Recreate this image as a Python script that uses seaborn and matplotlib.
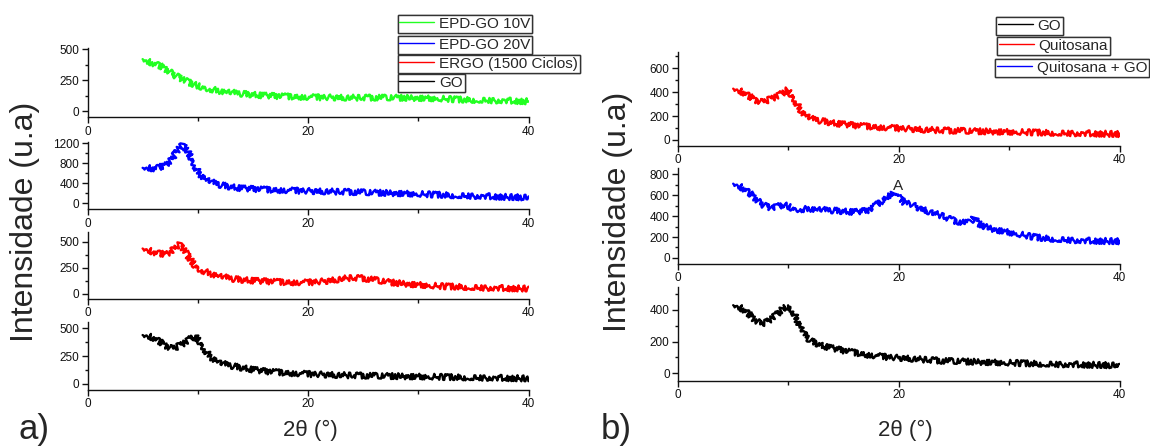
import numpy as np
import pandas as pd
import matplotlib
matplotlib.use("Agg")
import matplotlib.pyplot as plt
from matplotlib.lines import Line2D
from matplotlib.ticker import MultipleLocator, FixedLocator
import seaborn as sns

sns.set_style("ticks")
plt.rcParams['font.family'] = ['Liberation Sans', 'DejaVu Sans']

# ---------------- data ----------------
# Panel a) : EPD-GO 10V
x_epd10 = [5, 5.5, 6, 6.5, 7, 7.5, 8, 8.5, 9, 9.5, 10, 11, 12, 13, 14, 15, 16, 17, 18,
           20, 22, 24, 26, 28, 30, 32, 34, 36, 38, 40]
y_epd10 = [420, 400, 385, 370, 345, 315, 285, 260, 240, 220, 205, 180, 162, 150, 140, 132,
           126, 121, 118, 112, 110, 108, 108, 107, 105, 100, 92, 88, 84, 78]
# EPD-GO 20V
x_epd20 = [5, 6, 6.5, 7, 7.5, 8, 8.3, 8.6, 9, 9.4, 9.8, 10.2, 10.7, 11.3, 12, 13, 14, 15,
           17, 20, 23, 26, 28, 30, 33, 36, 38, 40]
y_epd20 = [710, 700, 720, 760, 850, 1000, 1100, 1160, 1080, 920, 720, 580, 480, 420, 370,
           325, 300, 285, 265, 245, 230, 210, 200, 185, 160, 140, 125, 115]
# ERGO (1500 Ciclos)
x_ergo = [5, 5.5, 6, 6.5, 7, 7.5, 8, 8.3, 8.7, 9.2, 9.7, 10.2, 11, 12, 13, 14, 16, 18, 20,
          21, 22, 23, 24, 25, 26, 27, 28, 30, 32, 34, 36, 38, 40]
y_ergo = [435, 420, 400, 390, 380, 400, 450, 470, 430, 350, 280, 235, 200, 170, 148, 135,
          122, 112, 110, 118, 128, 145, 155, 150, 135, 118, 105, 88, 75, 68, 60, 55, 52]
# GO (panel a)
x_go_a = [5, 5.5, 6, 6.5, 7, 7.5, 8, 8.5, 9, 9.5, 9.8, 10.2, 10.7, 11.2, 12, 13, 14, 15,
          16, 18, 20, 23, 26, 30, 34, 37, 40]
y_go_a = [440, 430, 415, 385, 350, 325, 330, 350, 380, 420, 425, 380, 300, 240, 190, 165,
          145, 130, 115, 100, 90, 80, 73, 67, 60, 55, 50]

# Panel b) : Quitosana
x_quit = [5, 5.5, 6, 6.5, 7, 7.5, 8, 8.5, 9, 9.5, 9.9, 10.3, 10.8, 11.2, 12, 13, 14, 16,
          18, 20, 22, 24, 27, 30, 34, 37, 40]
y_quit = [430, 415, 395, 365, 335, 320, 330, 345, 365, 395, 420, 380, 300, 235, 180, 160,
          142, 122, 108, 98, 88, 80, 73, 68, 60, 55, 50]
# Quitosana + GO
x_qgo = [5, 5.5, 6, 6.5, 7, 7.5, 8, 8.5, 9, 9.5, 10, 10.5, 11, 12, 13, 14, 15, 16, 17,
         17.5, 18, 18.5, 19, 19.5, 20, 20.5, 21, 22, 23, 24, 25, 26, 26.5, 26.8, 27.2, 28,
         29, 30, 31, 32, 33, 35, 37, 40]
y_qgo = [710, 690, 660, 620, 570, 520, 490, 475, 490, 510, 495, 470, 465, 470, 460, 455,
         445, 440, 450, 465, 510, 545, 590, 630, 580, 530, 520, 470, 435, 400, 355, 335,
         340, 390, 330, 290, 265, 245, 225, 205, 190, 175, 165, 160]
# GO (panel b)
x_go_b = [5, 5.5, 6, 6.5, 7, 7.5, 8, 8.5, 9, 9.5, 10, 10.4, 10.9, 11.4, 12, 13, 14, 15,
          17, 19, 21, 24, 27, 30, 34, 37, 40]
y_go_b = [430, 420, 400, 370, 335, 315, 320, 345, 375, 410, 425, 395, 320, 250, 205, 175,
          158, 143, 118, 102, 93, 78, 72, 66, 58, 54, 50]

labels_a = ["EPD-GO 10V", "EPD-GO 20V", "ERGO (1500 Ciclos)", "GO"]
labels_b = ["GO", "Quitosana", "Quitosana + GO"]
GREEN, BLUE, RED, BLACK = "#22ff22", "#0000ff", "#ff0000", "#000000"

# ---------------- figure ----------------
W, H = 1150, 447
fig = plt.figure(figsize=(W / 100, H / 100), dpi=100)


def ax_at(x0, top, x1, bottom):
    return fig.add_axes([x0 / W, 1 - bottom / H, (x1 - x0) / W, (bottom - top) / H])


def style(ax, ylim, ymaj, ymin):
    ax.set_xlim(0, 40)
    ax.set_ylim(*ylim)
    sns.despine(ax=ax)
    for s in ("left", "bottom"):
        ax.spines[s].set_linewidth(1.0)
        ax.spines[s].set_color("#111111")
    ax.xaxis.set_major_locator(FixedLocator([0, 20, 40]))
    ax.xaxis.set_minor_locator(FixedLocator([10, 30]))
    ax.yaxis.set_major_locator(MultipleLocator(ymaj))
    ax.yaxis.set_minor_locator(MultipleLocator(ymin))
    ax.tick_params(axis="both", which="major", direction="out", length=4, width=1,
                   labelsize=8.5, pad=2, colors="#111111")
    ax.tick_params(axis="both", which="minor", direction="out", length=2.5, width=1,
                   colors="#111111")
    ax.tick_params(axis="x", which="minor", length=3)
    ax.set_xlabel("")
    ax.set_ylabel("")
    ax.set_facecolor("none")


LW = 1.7


def draw(ax, x, y, color):
    sns.lineplot(x=x, y=y, ax=ax, color=color, lw=LW)
    for ln in ax.get_lines():
        # jagged rendering style to mimic the measurement noise band
        ln.set_sketch_params(scale=3.0, length=0.7, randomness=3)


# left column
lx0, lx1 = 87.5, 528.5
axL1 = ax_at(lx0, 48, lx1, 117.3)
axL2 = ax_at(lx0, 141.7, lx1, 209.3)
axL3 = ax_at(lx0, 231.7, lx1, 299)
axL4 = ax_at(lx0, 321.7, lx1, 390)
draw(axL1, x_epd10, y_epd10, GREEN)
draw(axL2, x_epd20, y_epd20, BLUE)
draw(axL3, x_ergo, y_ergo, RED)
draw(axL4, x_go_a, y_go_a, BLACK)
style(axL1, (-51, 510), 250, 125)
style(axL2, (-123, 1235), 400, 200)
style(axL3, (-48, 596), 250, 125)
style(axL4, (-54, 560), 250, 125)

# right column
rx0, rx1 = 678, 1119.5
axR1 = ax_at(rx0, 51.7, rx1, 145.7)
axR2 = ax_at(rx0, 168, rx1, 263.7)
axR3 = ax_at(rx0, 286.7, rx1, 381)
draw(axR1, x_quit, y_quit, RED)
draw(axR2, x_qgo, y_qgo, BLUE)
draw(axR3, x_go_b, y_go_b, BLACK)
style(axR1, (-48, 740), 200, 100)
style(axR2, (-55, 860), 200, 100)
style(axR3, (-49, 547), 200, 100)
axR2.text(19.9, 690, "A", ha="center", va="center", fontsize=11)

# legends (one framed box per entry)
def box(label, color, x, y):
    h = Line2D([], [], color=color, lw=1.0)
    lg = fig.legend(handles=[h], labels=[label], loc="upper left",
                    bbox_to_anchor=(x / W, 1 - y / H), frameon=True, fancybox=False,
                    fontsize=11, borderpad=0.12, handlelength=2.3, handletextpad=0.3,
                    borderaxespad=0, framealpha=1)
    lg.get_frame().set_edgecolor("#333333")
    lg.get_frame().set_linewidth(1.0)
    fig.add_artist(lg)

for lab, col, yy in zip(labels_a, [GREEN, BLUE, RED, BLACK], [15, 36, 55, 74]):
    box(lab, col, 397.5, yy)
for lab, col, xx, yy in zip(labels_b, [BLACK, RED, BLUE], [995.7, 996.7, 995], [17, 37, 59]):
    box(lab, col, xx, yy)

# labels
fig.text(25 / W, 1 - 222 / H, "Intensidade (u.a)", rotation=90, ha="center", va="center",
         fontsize=23)
fig.text(618 / W, 1 - 212 / H, "Intensidade (u.a)", rotation=90, ha="center", va="center",
         fontsize=23)
fig.text(310 / W, 1 - 430 / H, "2θ (°)", ha="center", va="center", fontsize=16)
fig.text(905 / W, 1 - 430 / H, "2θ (°)", ha="center", va="center", fontsize=16)
fig.text(18 / W, 1 - 430 / H, "a)", ha="left", va="center", fontsize=25)
fig.text(601 / W, 1 - 430 / H, "b)", ha="left", va="center", fontsize=25)

fig.savefig("out.png", dpi=100)
